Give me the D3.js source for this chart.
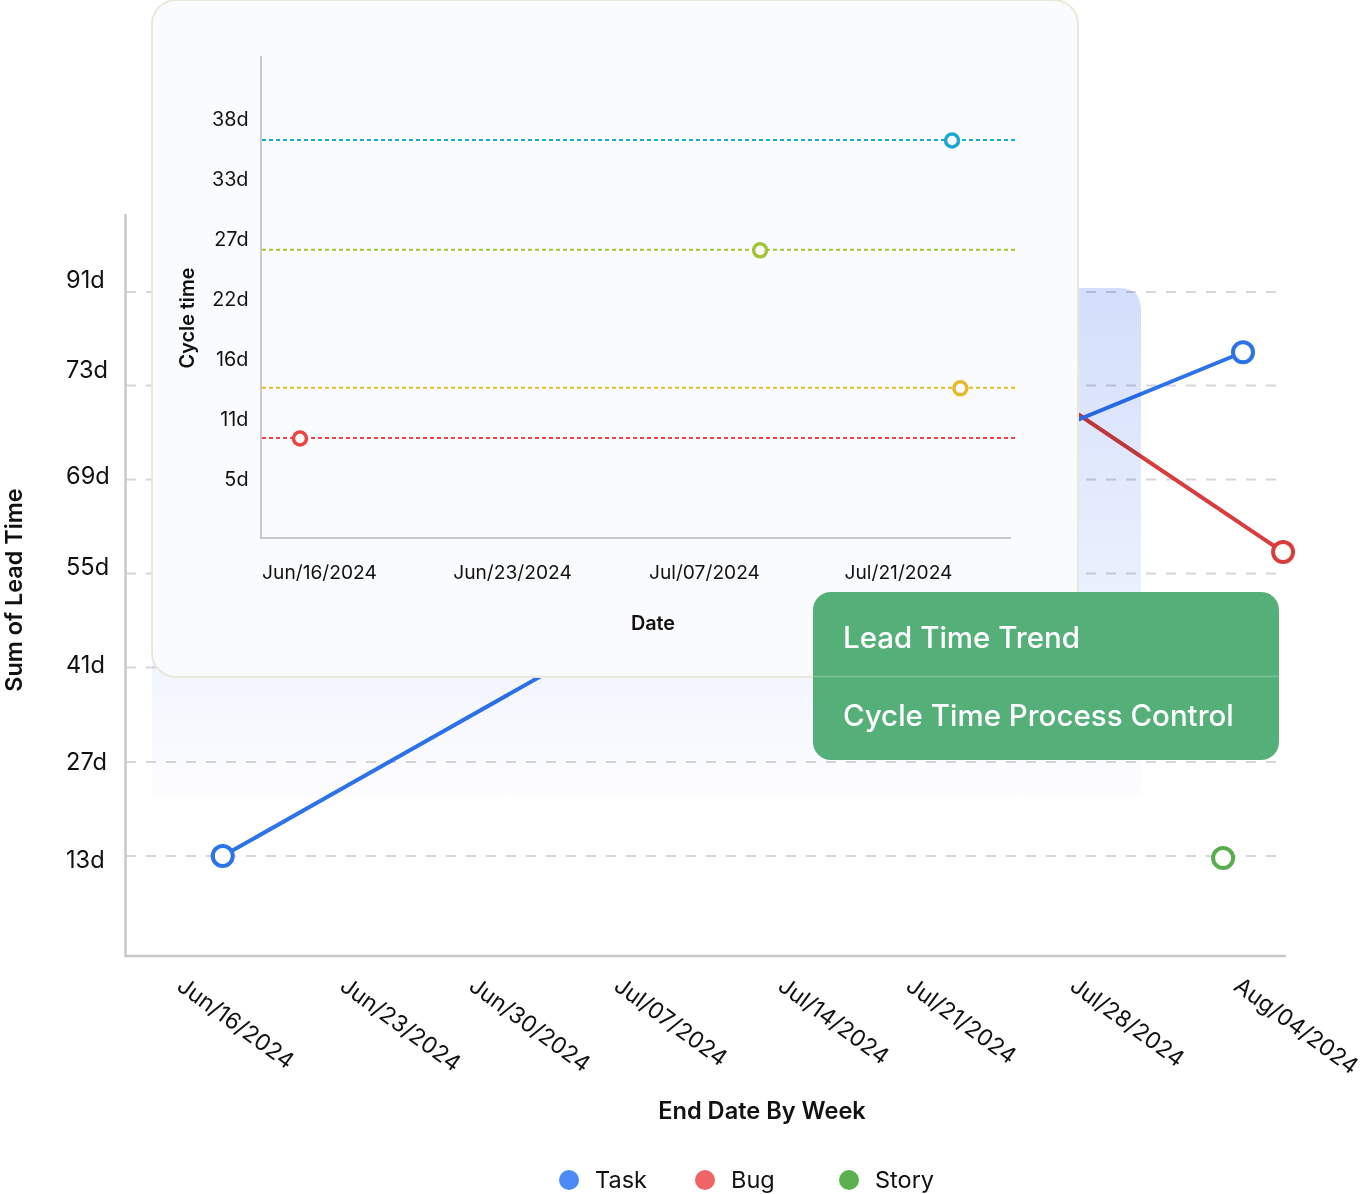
<!DOCTYPE html>
<html><head><meta charset="utf-8">
<script src="https://cdn.jsdelivr.net/npm/d3@7"></script>
<style>html,body{margin:0;background:#fff}svg{display:block;font-family:Inter,sans-serif}</style>
</head><body><svg id="c" width="1369" height="1194"></svg>
<script>
const FONT_COLOR = "#111";
// outer chart data
const weekLabels = ["Jun/16/2024","Jun/23/2024","Jun/30/2024","Jul/07/2024","Jul/14/2024","Jul/21/2024","Jul/28/2024","Aug/04/2024"];
const weekDays = [0,7,14,21,28,35,42,49];
const dayTicks = [13,27,41,55,69,73,91];
const taskDays = [2.05,28,49.47];
const taskValues = [13,59.5,79.4];
const bugDays = [35,51.18];
const bugValues = [90,58.2];
const storyDays = [48.62];
const storyValues = [12.7];
const legendLabels = ["Task","Bug","Story"];
// inner chart data
const innerWeekLabels = ["Jun/16/2024","Jun/23/2024","Jul/07/2024","Jul/21/2024"];
const innerWeekDays = [0,7,21,35];
const cycleTicks = [5,11,16,22,27,33,38];
const cycleValues = [36.25,26.1,13.6,9.1];
const cycleDays = [38.9,25.05,39.5,-0.69];
const cycleColors = ["#1ea7cf","#a3c636","#e8b92e","#ea4444"];
const menuLabels = ["Lead Time Trend","Cycle Time Process Control"];

const svg = d3.select("#c");
const defs = svg.append("defs");
const grad = defs.append("linearGradient").attr("id","g").attr("x1",0).attr("x2",0).attr("y1",0).attr("y2",1);
grad.append("stop").attr("offset",0).attr("stop-color","#d2defb");
grad.append("stop").attr("offset",1).attr("stop-color","#fdfdff");

const x = d3.scaleLinear().domain(weekDays).range([175,338,467,612,776,904,1068,1232]);
const y = d3.scaleLinear().domain(dayTicks).range([856,762,667.5,573.5,479.5,385.5,292]);
const yLabel = d3.scaleLinear().domain(dayTicks).range([859,761,664,566,475,369,279]);

// grid
const grid = svg.append("g").attr("transform","translate(126,0)")
  .call(d3.axisRight(y).offset(0).tickValues(dayTicks).tickSize(1150).tickFormat(""));
grid.select(".domain").remove();
grid.selectAll("line").attr("stroke","#d6d6da").attr("stroke-width",2).attr("stroke-dasharray","10 10");

// lines
const line = d3.line().x(d=>x(d[0])).y(d=>y(d[1]));
const colors = {Task:"#2c73e8",Bug:"#d93c3c",Story:"#5aad4f"};
const series = [
  {k:"Story",p:d3.zip(storyDays,storyValues)},
  {k:"Bug",p:d3.zip(bugDays,bugValues)},
  {k:"Task",p:d3.zip(taskDays,taskValues)}
];
svg.append("g").selectAll("path").data(series).join("path")
  .attr("d",d=>line(d.p)).attr("fill","none").attr("stroke",d=>colors[d.k]).attr("stroke-width",4);
series.forEach(s=>{
  const pts = s.k==="Bug" ? s.p.slice(-1) : s.k==="Task" ? [s.p[0],s.p[2]] : s.p;
  svg.append("g").selectAll("circle").data(pts).join("circle")
    .attr("cx",d=>x(d[0])).attr("cy",d=>y(d[1])).attr("r",10)
    .attr("fill","#fff").attr("stroke",colors[s.k]).attr("stroke-width",4);
});

// gradient panel, blended over grid and lines
const px0=152,px1=1141,py0=288,py1=796,pr=22;
svg.append("path")
  .attr("d",`M${px0},${py1}V${py0}H${px1-pr}Q${px1},${py0} ${px1},${py0+pr}V${py1}Z`)
  .attr("fill","url(#g)").style("mix-blend-mode","multiply");

// outer axes
svg.append("path").attr("d","M125.5,214V956H1286").attr("fill","none").attr("stroke","#c9c9c9").attr("stroke-width",2.5);
const yAx = svg.append("g").attr("transform","translate(66,0)")
  .call(d3.axisLeft(yLabel).tickValues(dayTicks).tickSize(0).tickFormat(d=>d+"d"));
yAx.select(".domain").remove();
yAx.selectAll("text").attr("x",0).attr("dy","0.35em").attr("text-anchor","start")
  .attr("font-size",23.6).attr("font-family","Inter").attr("fill",FONT_COLOR);

const xAx = svg.append("g").attr("transform","translate(0,956)")
  .call(d3.axisBottom(x).tickValues(weekDays).tickSize(0).tickFormat((d,i)=>weekLabels[i]));
xAx.select(".domain").remove();
xAx.selectAll("text").attr("x",0).attr("y",0).attr("dy",0).attr("text-anchor","start")
  .attr("transform","translate(0,33) rotate(36)")
  .attr("font-size",23).attr("font-family","Inter").attr("fill",FONT_COLOR);

svg.append("text").attr("transform","translate(22,590) rotate(-90)").attr("text-anchor","middle")
  .attr("font-size",23.4).attr("font-weight",600).attr("fill","#111").text("Sum of Lead Time");
svg.append("text").attr("x",762).attr("y",1119).attr("text-anchor","middle")
  .attr("font-size",23.6).attr("font-weight",600).attr("fill","#111").text("End Date By Week");

// legend
const legendX = {Task:569,Bug:705,Story:849};
const legendCol = {Task:"#4b8bf5",Bug:"#ee6467",Story:"#5cb050"};
const lg = svg.append("g").selectAll("g").data(legendLabels).join("g")
  .attr("transform",d=>`translate(${legendX[d]},1180)`);
lg.append("circle").attr("r",10).attr("fill",d=>legendCol[d]);
lg.append("text").attr("x",26).attr("dy","0.35em").attr("font-size",23.5).attr("fill",FONT_COLOR).text(d=>d);

// card
svg.append("rect").attr("x",152).attr("y",0).attr("width",926).attr("height",677).attr("rx",24)
  .attr("fill","#fafbfd").attr("stroke","#e8e9dc").attr("stroke-width",2);

const ix = d3.scaleLinear().domain(innerWeekDays).range([319,512,704,898]);
const iy = d3.scaleLinear().domain(cycleTicks).range([479,419,359,299,239,179,119]);

svg.append("g").selectAll("line").data(cycleValues).join("line")
  .attr("x1",262).attr("x2",1016).attr("y1",d=>iy(d)).attr("y2",d=>iy(d))
  .attr("stroke",(d,i)=>cycleColors[i]).attr("stroke-width",2).attr("stroke-dasharray","4 3");
svg.append("g").selectAll("circle").data(cycleValues).join("circle")
  .attr("cx",(d,i)=>ix(cycleDays[i])).attr("cy",d=>iy(d)+0.5).attr("r",6.5)
  .attr("fill","#fafbfd").attr("stroke",(d,i)=>cycleColors[i]).attr("stroke-width",3.5);

svg.append("path").attr("d","M261,56V538H1011").attr("fill","none").attr("stroke","#c9c9c9").attr("stroke-width",2);
const iyAx = svg.append("g").attr("transform","translate(248.5,0)")
  .call(d3.axisLeft(iy).tickValues(cycleTicks).tickSize(0).tickFormat(d=>d+"d"));
iyAx.select(".domain").remove();
iyAx.selectAll("text").attr("x",0).attr("dy","0.35em").attr("font-size",19.8).attr("font-family","Inter").attr("fill",FONT_COLOR);
const ixAx = svg.append("g").attr("transform","translate(0,538)")
  .call(d3.axisBottom(ix).tickValues(innerWeekDays).tickSize(0).tickFormat((d,i)=>innerWeekLabels[i]));
ixAx.select(".domain").remove();
ixAx.selectAll("text").attr("y",0).attr("dy",41).attr("font-size",19.2).attr("font-family","Inter").attr("fill",FONT_COLOR);
svg.append("text").attr("transform","translate(194,318) rotate(-90)").attr("text-anchor","middle")
  .attr("font-size",19.8).attr("font-weight",600).attr("fill","#111").text("Cycle time");
svg.append("text").attr("x",653).attr("y",630).attr("text-anchor","middle")
  .attr("font-size",19.8).attr("font-weight",600).attr("fill","#111").text("Date");

// menu
svg.append("rect").attr("x",813).attr("y",592).attr("width",466).attr("height",168).attr("rx",18).attr("fill","#54b078");
svg.append("line").attr("x1",813).attr("x2",1279).attr("y1",676.5).attr("y2",676.5).attr("stroke","#7cc396").attr("stroke-width",1.5);
svg.append("g").selectAll("text").data(menuLabels).join("text")
  .attr("x",843).attr("y",(d,i)=>648+78*i).attr("font-size",29.5).attr("font-weight",500).attr("fill","#fff").text(d=>d);
</script></body></html>
